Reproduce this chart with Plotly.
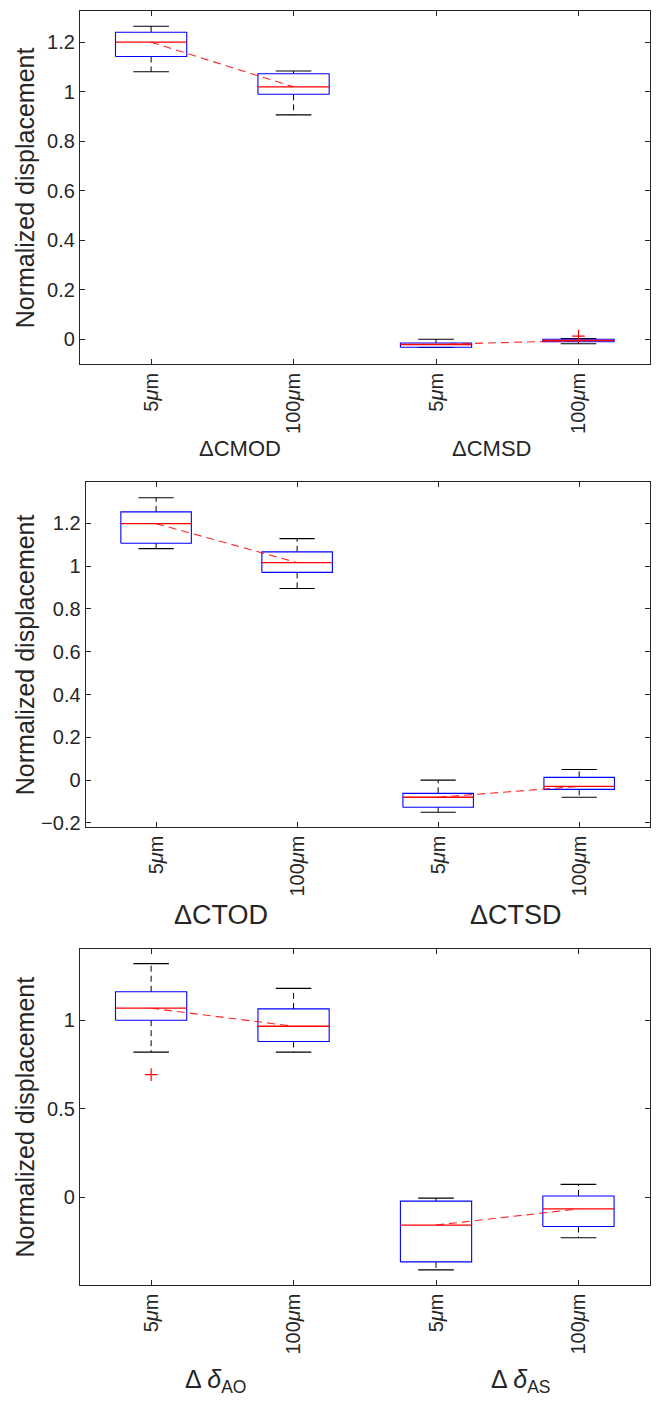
import plotly.graph_objects as go

# ---------------- data ----------------
positions = [1, 2, 3, 4]
tick_labels = ["5<i>μ</i>m", "100<i>μ</i>m", "5<i>μ</i>m", "100<i>μ</i>m"]

# Panel 1: CMOD / CMSD
p1_lower = [1.080, 0.906, -0.034, -0.019]
p1_q1 = [1.142, 0.989, -0.033, -0.011]
p1_median = [1.200, 1.019, -0.022, -0.006]
p1_q3 = [1.240, 1.072, -0.016, -0.001]
p1_upper = [1.264, 1.083, -0.001, 0.002]
p1_out_x = [4]
p1_out_y = [0.012]
p1_groups = ["ΔCMOD", "ΔCMSD"]

# Panel 2: CTOD / CTSD
p2_lower = [1.082, 0.896, -0.150, -0.080]
p2_q1 = [1.107, 0.971, -0.127, -0.043]
p2_median = [1.199, 1.017, -0.080, -0.029]
p2_q3 = [1.254, 1.067, -0.062, 0.013]
p2_upper = [1.320, 1.129, 0.000, 0.050]
p2_out_x = []
p2_out_y = []
p2_groups = ["ΔCTOD", "ΔCTSD"]

# Panel 3: delta_AO / delta_AS
p3_lower = [0.821, 0.821, -0.409, -0.228]
p3_q1 = [1.001, 0.881, -0.364, -0.164]
p3_median = [1.069, 0.967, -0.156, -0.065]
p3_q3 = [1.162, 1.065, -0.021, 0.008]
p3_upper = [1.321, 1.181, -0.004, 0.074]
p3_out_x = [1]
p3_out_y = [0.694]
p3_groups = ["Δ <i>δ</i><sub>AO</sub>", "Δ <i>δ</i><sub>AS</sub>"]

y_title = "Normalized displacement"

# ---------------- layout geometry ----------------
PAGE_W, PAGE_H = 659, 1407
OFF = 8  # default body margin of the html page
W, H = PAGE_W - 2 * OFF, PAGE_H - 2 * OFF
BOX_W = 0.5
CAP_W = 0.25
AXC = "#262626"
FONT = "Liberation Sans, Arial, Helvetica, sans-serif"


def px_x(x):
    return (x - OFF) / W


def px_y(y):
    return 1 - (y - OFF) / H


panels = [
    dict(lo=p1_lower, q1=p1_q1, med=p1_median, q3=p1_q3, hi=p1_upper,
         ox=p1_out_x, oy=p1_out_y, groups=p1_groups,
         xpx=(80, 650.7), ypx=(10.7, 365.7), yrange=[-0.1005, 1.327], dtick=0.2,
         glabel_x=[240, 492], glabel_y=451, glabel_size=22),
    dict(lo=p2_lower, q1=p2_q1, med=p2_median, q3=p2_q3, hi=p2_upper,
         ox=p2_out_x, oy=p2_out_y, groups=p2_groups,
         xpx=(85.7, 650.7), ypx=(484.3, 830.7), yrange=[-0.217, 1.394], dtick=0.2,
         glabel_x=[221.5, 517], glabel_y=920, glabel_size=27),
    dict(lo=p3_lower, q1=p3_q1, med=p3_median, q3=p3_q3, hi=p3_upper,
         ox=p3_out_x, oy=p3_out_y, groups=p3_groups,
         xpx=(80, 650.7), ypx=(953.3, 1291), yrange=[-0.492, 1.406], dtick=0.5,
         glabel_x=[216, 522], glabel_y=1388, glabel_size=25),
]

fig = go.Figure()
annotations = []
layout_axes = {}

for i, p in enumerate(panels):
    sfx = "" if i == 0 else str(i + 1)
    xr, yr = "x" + sfx, "y" + sfx

    # whiskers (dashed black)
    wx, wy = [], []
    for pos, lo, q1, q3, hi in zip(positions, p["lo"], p["q1"], p["q3"], p["hi"]):
        wx += [pos, pos, None, pos, pos, None]
        wy += [q3, hi, None, q1, lo, None]
    fig.add_trace(go.Scatter(x=wx, y=wy, mode="lines",
                             line=dict(color="black", width=1, dash="6px,4px"),
                             xaxis=xr, yaxis=yr, hoverinfo="skip"))
    # caps
    cx, cy = [], []
    for pos, lo, hi in zip(positions, p["lo"], p["hi"]):
        cx += [pos - CAP_W / 2, pos + CAP_W / 2, None, pos - CAP_W / 2, pos + CAP_W / 2, None]
        cy += [hi, hi, None, lo, lo, None]
    fig.add_trace(go.Scatter(x=cx, y=cy, mode="lines",
                             line=dict(color="black", width=1.1),
                             xaxis=xr, yaxis=yr, hoverinfo="skip"))
    # boxes
    bx, by = [], []
    for pos, q1, q3 in zip(positions, p["q1"], p["q3"]):
        l, r = pos - BOX_W / 2, pos + BOX_W / 2
        bx += [l, r, r, l, l, None]
        by += [q1, q1, q3, q3, q1, None]
    fig.add_trace(go.Scatter(x=bx, y=by, mode="lines",
                             line=dict(color="#0000ff", width=1.1),
                             xaxis=xr, yaxis=yr, hoverinfo="skip"))
    # median connection (dashed red)
    fig.add_trace(go.Scatter(x=[positions[0], positions[1], None, positions[2], positions[3]],
                             y=[p["med"][0], p["med"][1], None, p["med"][2], p["med"][3]],
                             mode="lines",
                             line=dict(color="rgba(255,0,0,0.85)", width=1.1, dash="8px,5px"),
                             xaxis=xr, yaxis=yr, hoverinfo="skip"))
    # medians
    mx, my = [], []
    for pos, m in zip(positions, p["med"]):
        mx += [pos - BOX_W / 2, pos + BOX_W / 2, None]
        my += [m, m, None]
    fig.add_trace(go.Scatter(x=mx, y=my, mode="lines",
                             line=dict(color="#ff0000", width=1.3),
                             xaxis=xr, yaxis=yr, hoverinfo="skip"))
    # outliers
    if p["ox"]:
        fig.add_trace(go.Scatter(x=p["ox"], y=p["oy"], mode="markers",
                                 marker=dict(symbol="cross-thin", size=9,
                                             line=dict(color="#ff0000", width=1.2)),
                                 xaxis=xr, yaxis=yr, hoverinfo="skip"))

    xdom = [px_x(p["xpx"][0]), px_x(p["xpx"][1])]
    ydom = [px_y(p["ypx"][1]), px_y(p["ypx"][0])]
    common = dict(showline=True, linecolor=AXC, linewidth=1, mirror="ticks",
                  ticks="inside", ticklen=5, tickcolor=AXC, tickwidth=1,
                  showgrid=False, zeroline=False,
                  tickfont=dict(family=FONT, size=20, color=AXC))
    layout_axes["xaxis" + sfx] = dict(domain=xdom, range=[0.5, 4.5], anchor=yr,
                                      tickmode="array", tickvals=positions,
                                      ticktext=tick_labels, tickangle=-90, **common)
    layout_axes["yaxis" + sfx] = dict(domain=ydom, range=p["yrange"], anchor=xr,
                                      dtick=p["dtick"], tick0=0, **common)

    # y title
    annotations.append(dict(text=y_title, xref="paper", yref="paper",
                            x=px_x(25), y=px_y((p["ypx"][0] + p["ypx"][1]) / 2),
                            xanchor="center", yanchor="middle", textangle=-90,
                            showarrow=False, font=dict(family=FONT, size=25, color=AXC)))
    # group labels
    for gx, gt in zip(p["glabel_x"], p["groups"]):
        annotations.append(dict(text=gt, xref="paper", yref="paper",
                                x=px_x(gx), y=px_y(p["glabel_y"]),
                                xanchor="center", yanchor="middle",
                                showarrow=False,
                                font=dict(family=FONT, size=p["glabel_size"], color=AXC)))

fig.update_layout(width=W, height=H, margin=dict(l=0, r=0, t=0, b=0),
                  paper_bgcolor="white", plot_bgcolor="white",
                  showlegend=False, annotations=annotations, **layout_axes)

fig.write_html("out.html")
